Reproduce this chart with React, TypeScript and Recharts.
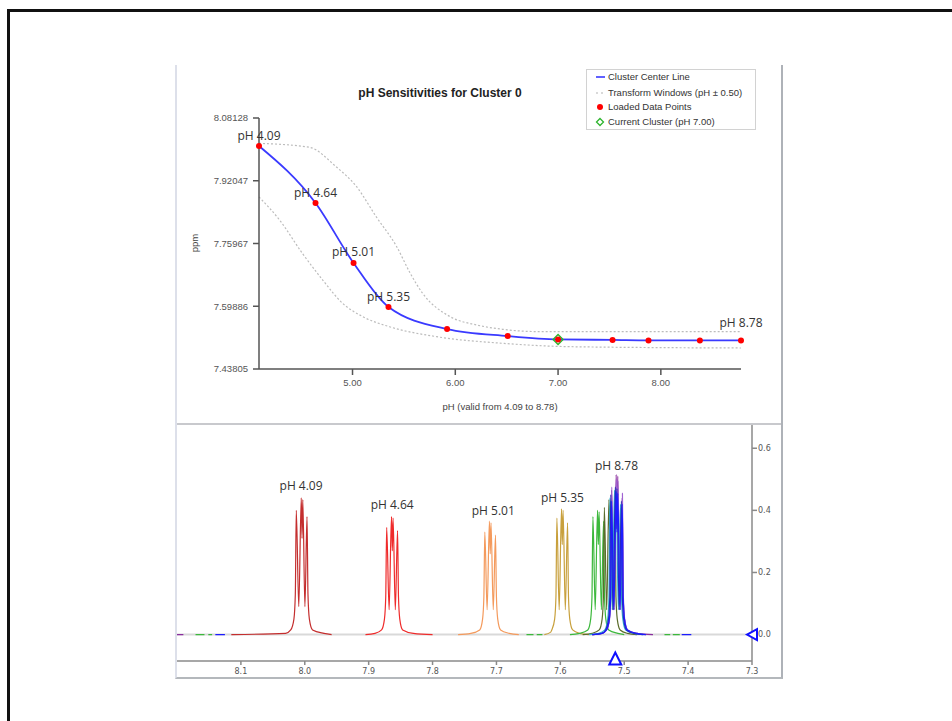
import { ComposedChart, Line, Scatter, XAxis, YAxis, ReferenceLine, ReferenceDot } from 'recharts';

// ---------- top panel: cluster centre vs pH ----------
const clusterPh = [4.09, 4.64, 5.01, 5.35, 5.92, 6.51, 7.0, 7.53, 7.88, 8.38, 8.78];
const clusterPpm = [8.0095, 7.8634, 7.7097, 7.5969, 7.5405, 7.5226, 7.5139, 7.5126, 7.5113, 7.5113, 7.5113];
const pointLabels = ['pH 4.09', 'pH 4.64', 'pH 5.01', 'pH 5.35', '', '', '', '', '', '', 'pH 8.78'];

const upperWindowPh = [4.09, 4.58, 4.84, 5.04, 5.23, 5.43, 5.56, 5.68, 5.95, 6.21, 6.46, 6.79, 8.78];
const upperWindowPpm = [8.0164, 8.0062, 7.9565, 7.9052, 7.8284, 7.7515, 7.6841, 7.6328, 7.5721, 7.5508, 7.5398, 7.534, 7.534];
const lowerWindowPh = [4.09, 4.29, 4.51, 4.71, 4.9, 5.1, 5.36, 5.82, 6.46, 7.12, 8.78];
const lowerWindowPpm = [7.879, 7.8199, 7.7353, 7.6661, 7.6072, 7.5721, 7.5464, 7.5208, 7.5039, 7.4952, 7.4919];

const currentPh = 7.0;
const currentPpm = 7.5139;

const phTicks = [5, 6, 7, 8];
const ppmTicks = [7.43805, 7.59886, 7.75967, 7.92047, 8.08128];

// ---------- bottom panel: overlaid spectra [ppm, intensity] ----------
type Pt = [number, number | null];

const spec409: Pt[] = [
  [8.115, 0], [8.03, 0.004], [8.022, 0.015], [8.017, 0.05], [8.0148, 0.13], [8.0133, 0.4], [8.0094, 0.09], [8.0055, 0.44],
  [8.0043, 0.31], [8.0031, 0.435], [7.9998, 0.09], [7.9965, 0.38], [7.995, 0.13], [7.9928, 0.05], [7.9878, 0.015], [7.97, 0.004], [7.958, 0],
];
const spec464: Pt[] = [
  [7.905, 0], [7.89, 0.004], [7.8798, 0.015], [7.8753, 0.05], [7.8733, 0.12], [7.8718, 0.345], [7.868, 0.08], [7.8643, 0.38],
  [7.863, 0.27], [7.8618, 0.375], [7.8583, 0.08], [7.8548, 0.335], [7.8533, 0.12], [7.8513, 0.05], [7.8468, 0.015], [7.83, 0.004], [7.8, 0],
];
const spec501: Pt[] = [
  [7.76, 0], [7.74, 0.004], [7.7262, 0.015], [7.7217, 0.05], [7.7197, 0.12], [7.7182, 0.33], [7.7146, 0.08], [7.711, 0.365],
  [7.7097, 0.26], [7.7085, 0.36], [7.705, 0.08], [7.7015, 0.32], [7.7, 0.12], [7.698, 0.05], [7.6935, 0.015], [7.68, 0.004], [7.665, 0],
];
const spec535: Pt[] = [
  [7.625, 0], [7.615, 0.008], [7.6134, 0.015], [7.6089, 0.05], [7.6069, 0.12], [7.6054, 0.375], [7.6018, 0.08], [7.5982, 0.405],
  [7.597, 0.29], [7.5957, 0.4], [7.5922, 0.08], [7.5887, 0.36], [7.5872, 0.12], [7.5852, 0.05], [7.5807, 0.015], [7.57, 0.004], [7.555, 0],
];
const spec592: Pt[] = [
  [8.171, 0], [8.157, 0], [8.156, null], [8.151, 0], [8.145, 0], [8.144, null],
  [7.653, 0], [7.642, 0], [7.641, null], [7.637, 0], [7.628, 0], [7.627, null],
  [7.585, 0], [7.57, 0.004], [7.557, 0.015], [7.5525, 0.05], [7.5505, 0.12], [7.549, 0.38], [7.5454, 0.08], [7.5418, 0.4],
  [7.5405, 0.29], [7.5393, 0.395], [7.5358, 0.08], [7.5323, 0.365], [7.5308, 0.12], [7.5288, 0.05], [7.5243, 0.015], [7.51, 0.004], [7.5, 0],
  [7.499, null], [7.437, 0], [7.428, 0], [7.427, null], [7.424, 0], [7.413, 0],
];
const spec651: Pt[] = [
  [7.565, 0], [7.55, 0.004], [7.5391, 0.015], [7.5346, 0.05], [7.5326, 0.12], [7.5311, 0.41], [7.5275, 0.08], [7.5239, 0.435],
  [7.5226, 0.31], [7.5214, 0.43], [7.5179, 0.08], [7.5144, 0.39], [7.5129, 0.12], [7.5109, 0.05], [7.5064, 0.015], [7.495, 0.004], [7.48, 0],
];
const spec700: Pt[] = [
  [7.555, 0], [7.54, 0.004], [7.5304, 0.015], [7.5259, 0.05], [7.5239, 0.12], [7.5224, 0.44], [7.5188, 0.08], [7.5152, 0.465],
  [7.5139, 0.33], [7.5127, 0.46], [7.5092, 0.08], [7.5057, 0.42], [7.5042, 0.12], [7.5022, 0.05], [7.4977, 0.015], [7.485, 0.004], [7.47, 0],
];
const spec753: Pt[] = [
  [7.55, 0], [7.535, 0.004], [7.5291, 0.015], [7.5246, 0.05], [7.5226, 0.12], [7.5211, 0.45], [7.5175, 0.08], [7.5139, 0.475],
  [7.5126, 0.34], [7.5114, 0.47], [7.5079, 0.08], [7.5044, 0.43], [7.5029, 0.12], [7.5009, 0.05], [7.4964, 0.015], [7.485, 0.004], [7.47, 0],
];
const spec788: Pt[] = [
  [8.14, 0], [8.125, 0], [8.124, null],
  [7.55, 0], [7.535, 0.004], [7.5278, 0.015], [7.5233, 0.05], [7.5213, 0.12], [7.5198, 0.43], [7.5162, 0.08], [7.5126, 0.46],
  [7.5113, 0.33], [7.5101, 0.455], [7.5066, 0.08], [7.5031, 0.42], [7.5016, 0.12], [7.4996, 0.05], [7.4951, 0.015], [7.48, 0.004], [7.466, 0],
  [7.465, null], [7.41, 0], [7.395, 0],
];
const spec838: Pt[] = [
  [7.55, 0], [7.535, 0.004], [7.5275, 0.015], [7.523, 0.05], [7.521, 0.12], [7.5195, 0.475], [7.5159, 0.08], [7.5123, 0.5],
  [7.511, 0.36], [7.5098, 0.495], [7.5063, 0.08], [7.5028, 0.455], [7.5013, 0.12], [7.4993, 0.05], [7.4948, 0.015], [7.48, 0.004], [7.466, 0],
];
const spec878: Pt[] = [
  [8.2, 0], [8.19, 0], [8.189, null],
  [7.55, 0], [7.535, 0.004], [7.5278, 0.015], [7.5233, 0.05], [7.5213, 0.12], [7.5198, 0.465], [7.5162, 0.08], [7.5126, 0.515],
  [7.5113, 0.37], [7.5101, 0.51], [7.5066, 0.08], [7.5031, 0.44], [7.5016, 0.12], [7.4996, 0.05], [7.4951, 0.015], [7.48, 0.004], [7.455, 0],
];

const spectrumOrder = ['ph409', 'ph464', 'ph501', 'ph535', 'ph592', 'ph651', 'ph878', 'ph838', 'ph700', 'ph753', 'ph788'];
const spectrumPoints: Record<string, Pt[]> = {
  ph409: spec409, ph464: spec464, ph501: spec501, ph535: spec535, ph592: spec592, ph651: spec651,
  ph700: spec700, ph753: spec753, ph788: spec788, ph838: spec838, ph878: spec878,
};
const spectrumColors: Record<string, string> = {
  ph409: '#c42e2e', ph464: '#ef2b2b', ph501: '#f49a5c', ph535: '#c8a03c', ph592: '#3cb83c', ph651: '#5c6c2c',
  ph700: '#30b2d2', ph753: '#2a2ab4', ph788: '#1c1cff', ph838: '#a062d2', ph878: '#8a2e9e',
};

const specLabelText = ['pH 4.09', 'pH 4.64', 'pH 5.01', 'pH 5.35', 'pH 8.78'];
const specLabelPpm = [8.0058, 7.8632, 7.7049, 7.5967, 7.5121];
const specLabelLevel = [0.48, 0.42, 0.4, 0.44, 0.546];

const shiftTicks = [8.1, 8.0, 7.9, 7.8, 7.7, 7.6, 7.5, 7.4, 7.3];
const intensityTicks = [0, 0.2, 0.4, 0.6];
const cursorPpm = 7.514;

const SANS = '"Liberation Sans", Arial, sans-serif';
const LABEL_FONT = '"Open Sans", "Noto Sans", sans-serif';

const centerData = clusterPh.map((ph, i) => ({ ph, ppm: clusterPpm[i], label: pointLabels[i] }));
const upperData = upperWindowPh.map((ph, i) => ({ ph, ppm: upperWindowPpm[i] }));
const lowerData = lowerWindowPh.map((ph, i) => ({ ph, ppm: lowerWindowPpm[i] }));
const currentData = [{ ph: currentPh, ppm: currentPpm }];
const specLabelData = specLabelText.map((text, i) => ({ x: specLabelPpm[i], y: specLabelLevel[i], text }));

const toXY = (pts: Pt[]) => pts.map(([x, y]) => ({ x, y }));

function RedDot(props: any) {
  return <circle cx={props.cx} cy={props.cy} r={3} fill="#ff0000" />;
}

function GreenDiamond(props: any) {
  const { cx, cy } = props;
  const s = 5;
  return (
    <polygon
      points={`${cx},${cy - s} ${cx + s},${cy} ${cx},${cy + s} ${cx - s},${cy}`}
      fill="none"
      stroke="#2db52d"
      strokeWidth={1.4}
    />
  );
}

function PointLabel(props: any) {
  const { cx, cy, payload } = props;
  if (!payload.label) return <g />;
  const lift = payload.label === 'pH 8.78' ? 18 : 11;
  return (
    <text x={cx} y={cy - lift} textAnchor="middle" dominantBaseline="central" fontSize={12} fill="#333" fontFamily={LABEL_FONT}>
      {payload.label}
    </text>
  );
}

function SpecLabel(props: any) {
  const { cx, cy, payload } = props;
  return (
    <text x={cx} y={cy} textAnchor="middle" dominantBaseline="central" fontSize={12} fill="#333" fontFamily={LABEL_FONT}>
      {payload.text}
    </text>
  );
}

function LeftTriangle(props: any) {
  const { cx, cy } = props;
  return (
    <polygon
      points={`${cx - 5},${cy} ${cx + 5},${cy - 5.5} ${cx + 5},${cy + 5.5}`}
      fill="#fff"
      stroke="#1010ff"
      strokeWidth={2}
    />
  );
}

function UpTriangle(props: any) {
  const { cx, cy } = props;
  return (
    <polygon
      points={`${cx},${cy - 8.5} ${cx + 6},${cy + 3.5} ${cx - 6},${cy + 3.5}`}
      fill="#fff"
      stroke="#1010ff"
      strokeWidth={2}
    />
  );
}

function Legend() {
  const rowTop = [77.3, 92.7, 106.7, 121.7];
  const rows = [
    'Cluster Center Line',
    'Transform Windows (pH \u00b1 0.50)',
    'Loaded Data Points',
    'Current Cluster (pH 7.00)',
  ];
  return (
    <>
      <div
        style={{
          position: 'absolute',
          left: 586,
          top: 69,
          width: 168,
          height: 59,
          border: '1px solid #d2d2d2',
          background: '#fff',
        }}
      />
      {rows.map((r, i) => (
        <div key={r}>
          <svg style={{ position: 'absolute', left: 594, top: rowTop[i] - 6 }} width={12} height={12}>
            {i === 0 && <line x1={2} y1={6} x2={11} y2={6} stroke="#3a3aff" strokeWidth={1.6} />}
            {i === 1 && <line x1={2} y1={6} x2={11} y2={6} stroke="#b4b4b4" strokeWidth={1.2} strokeDasharray="2 3" />}
            {i === 2 && <circle cx={6} cy={6} r={3} fill="#ff0000" />}
            {i === 3 && <polygon points="6,2.5 9.5,6 6,9.5 2.5,6" fill="none" stroke="#2db52d" strokeWidth={1.3} />}
          </svg>
          <div
            style={{
              position: 'absolute',
              left: 608,
              top: rowTop[i] - 6,
              height: 12,
              lineHeight: '12px',
              fontSize: 9.5,
              color: '#333',
              whiteSpace: 'nowrap',
            }}
          >
            {r}
          </div>
        </div>
      ))}
    </>
  );
}

export default function App() {
  const axisTick = { fontSize: 9.5, fill: '#555', fontFamily: SANS };
  const smallTick = { fontSize: 8, fill: '#555', fontFamily: '"DejaVu Sans", sans-serif' };
  return (
    <div
      style={{
        position: 'fixed',
        left: 0,
        top: 0,
        width: 952,
        height: 721,
        overflow: 'hidden',
        background: '#fff',
        fontFamily: SANS,
      }}
    >
      <div style={{ position: 'absolute', left: 7, top: 9, width: 1200, height: 1200, border: '3px solid #111' }} />
      <div
        style={{
          position: 'absolute',
          left: 175,
          top: 65,
          width: 604,
          height: 612,
          borderLeft: '2px solid #dde0ea',
          borderRight: '2px solid #aeb2b8',
          borderBottom: '2px solid #b4b8bc',
        }}
      />

      {/* top panel */}
      <div style={{ position: 'absolute', left: 175, top: 65 }}>
        <ComposedChart width={606} height={358} margin={{ top: 53, right: 40, bottom: 0, left: 0 }}>
          <XAxis
            type="number"
            dataKey="ph"
            domain={[4.09, 8.78]}
            ticks={phTicks}
            tickFormatter={(v: number) => v.toFixed(2)}
            height={54}
            tickSize={6}
            tickMargin={4}
            interval={0}
            stroke="#555"
            strokeWidth={1.5}
            tick={axisTick}
          />
          <YAxis
            type="number"
            dataKey="ppm"
            domain={[7.43805, 8.08128]}
            ticks={ppmTicks}
            tickFormatter={(v: number) => v.toFixed(5)}
            width={84}
            tickSize={6}
            tickMargin={5}
            interval={0}
            stroke="#555"
            strokeWidth={1.5}
            tick={axisTick}
          />
          <Line data={upperData} dataKey="ppm" type="monotone" stroke="#bcbcbc" strokeWidth={1.2} strokeDasharray="2 2" dot={false} isAnimationActive={false} />
          <Line data={lowerData} dataKey="ppm" type="monotone" stroke="#bcbcbc" strokeWidth={1.2} strokeDasharray="2 2" dot={false} isAnimationActive={false} />
          <Line data={centerData} dataKey="ppm" type="monotone" stroke="#3a3aff" strokeWidth={1.8} dot={false} isAnimationActive={false} />
          <Scatter data={currentData} dataKey="ppm" shape={GreenDiamond} isAnimationActive={false} />
          <Scatter data={centerData} dataKey="ppm" shape={RedDot} isAnimationActive={false} />
          <Scatter data={centerData} dataKey="ppm" shape={PointLabel} isAnimationActive={false} />
        </ComposedChart>
      </div>

      <div style={{ position: 'absolute', left: 440, top: 93, transform: 'translate(-50%, -50%)', fontSize: 12, fontWeight: 'bold', color: '#222', whiteSpace: 'nowrap' }}>
        pH Sensitivities for Cluster 0
      </div>
      <div style={{ position: 'absolute', left: 194, top: 243, transform: 'translate(-50%, -50%) rotate(-90deg)', fontSize: 9.5, color: '#444' }}>
        ppm
      </div>
      <div style={{ position: 'absolute', left: 500, top: 406, transform: 'translate(-50%, -50%)', fontSize: 9.5, color: '#444', whiteSpace: 'nowrap' }}>
        pH (valid from 4.09 to 8.78)
      </div>
      <Legend />

      {/* bottom panel */}
      <div style={{ position: 'absolute', left: 177, top: 424 }}>
        <ComposedChart width={604} height={253} margin={{ top: 0, right: 0, bottom: 0, left: 0 }}>
          <XAxis
            type="number"
            dataKey="x"
            domain={[7.3, 8.2]}
            reversed
            ticks={shiftTicks}
            tickFormatter={(v: number) => v.toFixed(1)}
            height={16}
            tickSize={4}
            tickMargin={3}
            interval={0}
            stroke="#8a8a8a"
            strokeWidth={1.5}
            tick={smallTick}
          />
          <YAxis
            type="number"
            dataKey="y"
            orientation="right"
            domain={[-0.085, 0.678]}
            ticks={intensityTicks}
            tickFormatter={(v: number) => v.toFixed(1)}
            width={29}
            tickSize={5}
            tickMargin={1}
            interval={0}
            stroke="#8a8a8a"
            strokeWidth={1.5}
            tick={smallTick}
          />
          <ReferenceLine y={0} stroke="#d9d9d9" strokeWidth={2} />
          {spectrumOrder.map((k) => (
            <Line
              key={k}
              data={toXY(spectrumPoints[k])}
              dataKey="y"
              type="monotone"
              stroke={spectrumColors[k]}
              strokeWidth={1.2}
              dot={false}
              connectNulls={false}
              isAnimationActive={false}
            />
          ))}
          <Scatter data={specLabelData} dataKey="y" shape={SpecLabel} isAnimationActive={false} />
          <ReferenceDot x={7.3} y={0} r={5} shape={LeftTriangle} ifOverflow="visible" />
          <ReferenceDot x={cursorPpm} y={-0.085} r={5} shape={UpTriangle} ifOverflow="visible" />
        </ComposedChart>
      </div>
      <div style={{ position: 'absolute', left: 177, top: 423, width: 604, height: 2, background: '#c8c9cd' }} />
    </div>
  );
}
